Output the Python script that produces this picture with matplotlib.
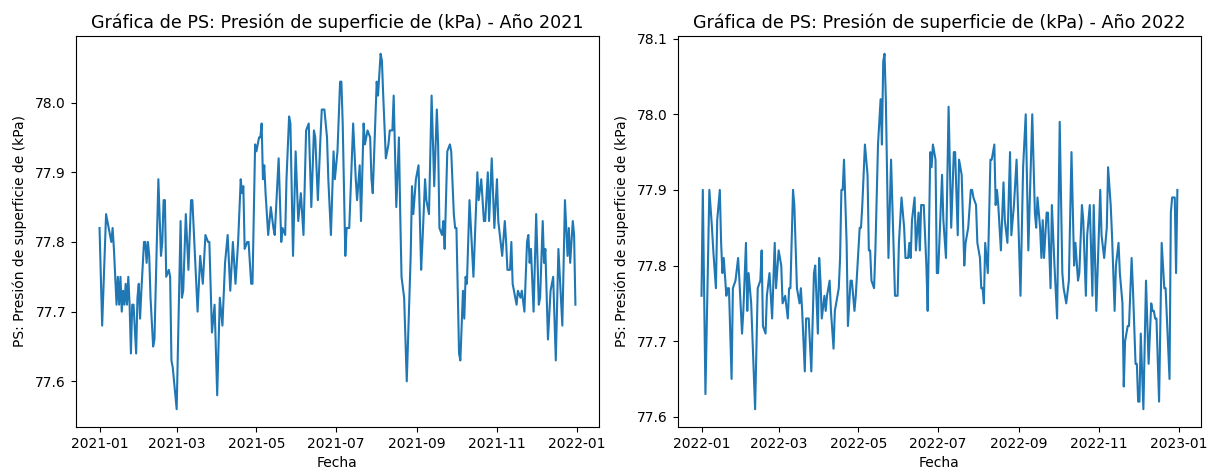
import pandas as pd
import matplotlib
matplotlib.use('Agg')
import matplotlib.pyplot as plt

# dias desde el 1 de enero y valores de PS (kPa)
dias_2021 = [0, 2, 5, 8, 9, 10, 11, 13, 14, 15, 16, 17, 18, 19, 20, 21, 22, 23, 24, 25,
             26, 28, 29, 30, 31, 32, 34, 35, 36, 37, 38, 39, 41, 42, 45, 47, 48, 49, 50, 51,
             53, 54, 55, 56, 59, 62, 63, 64, 66, 68, 70, 71, 75, 77, 79, 81, 83, 84, 86, 88,
             90, 92, 94, 96, 98, 100, 102, 104, 106, 108, 109, 110, 111, 113, 114, 116, 117, 119, 120, 122,
             123, 124, 125, 126, 127, 129, 131, 133, 134, 137, 139, 140, 142, 143, 145, 146, 148, 150, 152, 154,
             156, 158, 160, 162, 164, 165, 167, 169, 170, 172, 174, 175, 177, 179, 180, 182, 184, 185, 186, 188,
             189, 191, 194, 196, 197, 199, 200, 202, 203, 205, 207, 208, 209, 212, 213, 215, 216, 217, 219, 221,
             222, 224, 225, 227, 229, 230, 231, 233, 235, 238, 239, 240, 242, 244, 246, 247, 249, 250, 252, 254,
             256, 258, 259, 260, 262, 263, 264, 266, 268, 269, 271, 272, 273, 275, 276, 278, 279, 280, 281, 283,
             286, 289, 290, 292, 294, 295, 297, 298, 300, 302, 304, 305, 308, 310, 311, 312, 314, 315, 316, 317,
             319, 320, 322, 323, 325, 327, 328, 329, 330, 332, 334, 336, 337, 339, 340, 341, 343, 345, 347, 349,
             351, 354, 356, 358, 359, 360, 362, 363, 364]
ps_2021 = [77.82, 77.68, 77.84, 77.81, 77.80, 77.82, 77.79, 77.71, 77.75, 77.71, 77.75, 77.70, 77.73, 77.71, 77.74, 77.71, 77.75, 77.71, 77.64, 77.71,
           77.71, 77.64, 77.72, 77.74, 77.69, 77.73, 77.80, 77.80, 77.77, 77.80, 77.78, 77.72, 77.65, 77.66, 77.89, 77.78, 77.80, 77.86, 77.86, 77.75,
           77.76, 77.75, 77.63, 77.62, 77.56, 77.83, 77.72, 77.73, 77.84, 77.76, 77.86, 77.86, 77.70, 77.78, 77.74, 77.81, 77.80, 77.80, 77.67, 77.71,
           77.58, 77.72, 77.68, 77.77, 77.81, 77.73, 77.80, 77.74, 77.80, 77.89, 77.87, 77.88, 77.79, 77.80, 77.80, 77.74, 77.74, 77.94, 77.93, 77.95,
           77.95, 77.97, 77.89, 77.91, 77.87, 77.81, 77.85, 77.82, 77.81, 77.92, 77.80, 77.82, 77.81, 77.89, 77.98, 77.97, 77.78, 77.93, 77.83, 77.87,
           77.81, 77.96, 77.97, 77.85, 77.96, 77.95, 77.86, 77.95, 77.99, 77.99, 77.95, 77.89, 77.81, 77.93, 77.89, 77.93, 78.03, 78.03, 77.97, 77.78,
           77.82, 77.82, 77.97, 77.89, 77.86, 77.91, 77.83, 77.97, 77.94, 77.96, 77.95, 77.89, 77.87, 78.03, 78.01, 78.07, 78.06, 78.01, 77.92, 77.94,
           77.96, 77.96, 78.01, 77.85, 77.95, 77.84, 77.75, 77.72, 77.60, 77.78, 77.88, 77.84, 77.89, 77.91, 77.76, 77.80, 77.89, 77.86, 77.84, 78.01,
           77.88, 77.99, 77.94, 77.82, 77.81, 77.83, 77.79, 77.93, 77.94, 77.93, 77.84, 77.82, 77.82, 77.64, 77.63, 77.73, 77.69, 77.75, 77.74, 77.86,
           77.75, 77.90, 77.86, 77.89, 77.83, 77.83, 77.90, 77.83, 77.92, 77.82, 77.89, 77.83, 77.78, 77.83, 77.80, 77.76, 77.76, 77.80, 77.74, 77.73,
           77.71, 77.73, 77.72, 77.73, 77.70, 77.80, 77.81, 77.77, 77.79, 77.70, 77.84, 77.71, 77.72, 77.83, 77.77, 77.79, 77.66, 77.73, 77.75, 77.63,
           77.79, 77.68, 77.86, 77.78, 77.82, 77.77, 77.83, 77.81, 77.71]

dias_2022 = [0, 1, 3, 6, 8, 9, 11, 12, 14, 15, 16, 17, 19, 20, 21, 23, 24, 26, 28, 29,
             31, 32, 34, 35, 36, 38, 41, 43, 45, 46, 47, 49, 50, 52, 54, 56, 57, 59, 61, 62,
             64, 66, 67, 68, 70, 71, 73, 75, 76, 77, 79, 80, 82, 84, 86, 87, 89, 90, 91, 92,
             94, 95, 96, 98, 99, 101, 102, 105, 106, 107, 108, 109, 111, 112, 114, 115, 117, 118, 121, 122,
             123, 125, 126, 127, 128, 129, 130, 132, 133, 135, 137, 138, 139, 140, 141, 143, 145, 146, 148, 150,
             151, 153, 155, 156, 158, 159, 160, 161, 163, 164, 166, 167, 168, 170, 172, 173, 175, 176, 177, 179,
             180, 181, 184, 185, 187, 189, 191, 193, 194, 196, 197, 199, 201, 202, 203, 204, 206, 207, 208, 210,
             211, 213, 214, 215, 216, 217, 219, 221, 222, 224, 225, 226, 227, 229, 231, 232, 234, 236, 237, 239,
             241, 244, 246, 248, 250, 253, 255, 256, 257, 259, 260, 261, 262, 264, 265, 267, 268, 270, 272, 274,
             276, 277, 279, 281, 283, 285, 286, 288, 289, 291, 292, 294, 295, 297, 299, 300, 302, 305, 306, 308,
             310, 311, 313, 314, 316, 317, 319, 320, 322, 323, 324, 326, 327, 329, 330, 332, 333, 334, 335, 336,
             338, 340, 342, 344, 345, 346, 347, 348, 350, 352, 354, 355, 358, 359, 360, 362, 363, 364]
ps_2022 = [77.76, 77.90, 77.63, 77.90, 77.85, 77.82, 77.77, 77.86, 77.90, 77.83, 77.79, 77.81, 77.76, 77.77, 77.77, 77.65, 77.77, 77.78, 77.81, 77.78,
           77.71, 77.74, 77.83, 77.74, 77.79, 77.75, 77.61, 77.77, 77.78, 77.82, 77.72, 77.71, 77.76, 77.79, 77.73, 77.83, 77.77, 77.82, 77.80, 77.75,
           77.76, 77.73, 77.77, 77.77, 77.90, 77.88, 77.77, 77.75, 77.77, 77.74, 77.66, 77.73, 77.73, 77.66, 77.79, 77.80, 77.71, 77.81, 77.78, 77.73,
           77.76, 77.74, 77.76, 77.78, 77.74, 77.69, 77.74, 77.77, 77.81, 77.90, 77.90, 77.94, 77.83, 77.72, 77.78, 77.78, 77.74, 77.76, 77.85, 77.85,
           77.88, 77.96, 77.94, 77.92, 77.82, 77.82, 77.78, 77.77, 77.82, 77.96, 78.02, 77.96, 78.07, 78.08, 78.02, 77.81, 77.94, 77.88, 77.76, 77.76,
           77.83, 77.89, 77.85, 77.81, 77.81, 77.83, 77.81, 77.86, 77.89, 77.82, 77.87, 77.82, 77.88, 77.88, 77.80, 77.74, 77.95, 77.93, 77.96, 77.94,
           77.79, 77.79, 77.92, 77.86, 77.81, 78.01, 77.85, 77.95, 77.95, 77.84, 77.94, 77.92, 77.80, 77.83, 77.84, 77.85, 77.90, 77.90, 77.89, 77.88,
           77.83, 77.81, 77.77, 77.77, 77.75, 77.83, 77.79, 77.94, 77.94, 77.96, 77.88, 77.90, 77.88, 77.82, 77.91, 77.86, 77.83, 77.95, 77.84, 77.88,
           77.94, 77.76, 77.93, 78.00, 77.82, 78.00, 77.87, 77.85, 77.89, 77.85, 77.81, 77.86, 77.81, 77.87, 77.87, 77.77, 77.88, 77.80, 77.73, 77.99,
           77.79, 77.77, 77.75, 77.78, 77.95, 77.80, 77.83, 77.78, 77.79, 77.88, 77.86, 77.76, 77.84, 77.88, 77.76, 77.88, 77.74, 77.90, 77.84, 77.81,
           77.85, 77.93, 77.88, 77.84, 77.74, 77.80, 77.83, 77.79, 77.75, 77.64, 77.70, 77.72, 77.72, 77.81, 77.77, 77.67, 77.67, 77.62, 77.62, 77.71,
           77.61, 77.78, 77.67, 77.75, 77.74, 77.74, 77.73, 77.73, 77.62, 77.83, 77.77, 77.77, 77.65, 77.87, 77.89, 77.89, 77.79, 77.90]

titulo = 'Gráfica de PS: Presión de superficie de (kPa) - Año {}'
etiqueta_y = 'PS: Presión de superficie de (kPa)'


def fechas(anio, dias):
    return pd.Timestamp(f'{anio}-01-01') + pd.to_timedelta(dias, unit='D')


if __name__ == '__main__':

    fig, axes = plt.subplots(1, 2, figsize=(12.1, 4.7), dpi=100)
    fig.subplots_adjust(left=0.0626, right=0.9927, bottom=0.0915, top=0.9234, wspace=0.15)

    for ax, anio, dias, valores in zip(axes, [2021, 2022], [dias_2021, dias_2022], [ps_2021, ps_2022]):
        ax.plot(fechas(anio, dias), valores)
        ax.set_title(titulo.format(anio), fontsize=12.6)
        ax.set_xlabel('Fecha')
        ax.set_ylabel(etiqueta_y, labelpad=6)

    plt.savefig('out.png')
